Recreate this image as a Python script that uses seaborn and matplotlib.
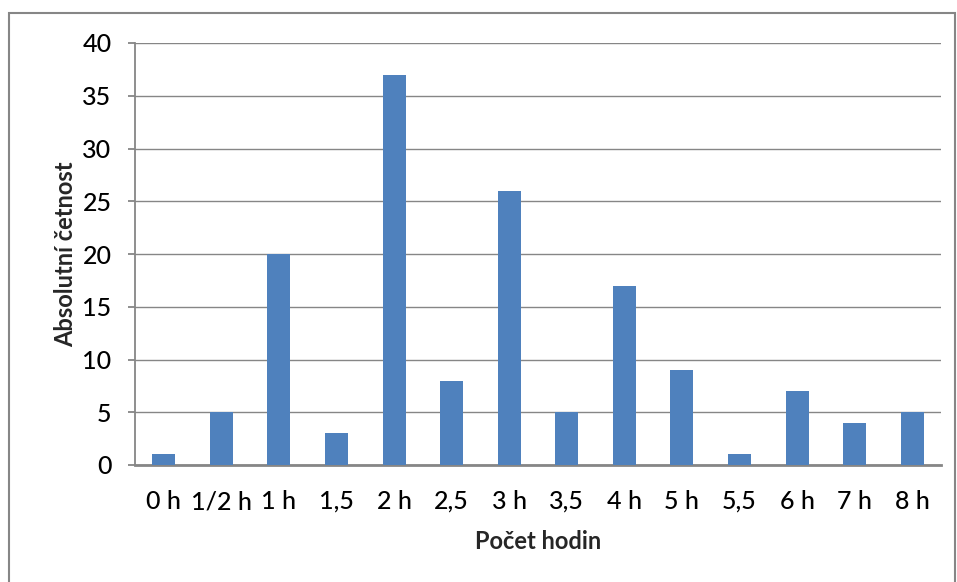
import matplotlib
matplotlib.use("Agg")
import matplotlib.pyplot as plt
import seaborn as sns
import pandas as pd
from matplotlib.patches import Rectangle

categories = ["0 h", "1/2 h", "1 h", "1,5", "2 h", "2,5", "3 h", "3,5",
              "4 h", "5 h", "5,5", "6 h", "7 h", "8 h"]
counts = [1, 5, 20, 3, 37, 8, 26, 5, 17, 9, 1, 7, 4, 5]
y_ticks = [0, 5, 10, 15, 20, 25, 30, 35, 40]

sns.set_theme(style="white")
plt.rcParams["font.family"] = ["Lato", "DejaVu Sans"]

df = pd.DataFrame({"kategorie": categories, "cetnost": counts})

fig = plt.figure(figsize=(9.57, 5.82), dpi=100)
ax = fig.add_axes([135 / 957, 1 - 465 / 582, (941 - 135) / 957, (465 - 43) / 582])

sns.barplot(data=df, x="kategorie", y="cetnost", color="#4F81BD",
            saturation=1, width=0.4, linewidth=0, ax=ax, zorder=3)

grid_c = "#868686"
ax.set_ylim(0, 40)
ax.set_xlim(-0.5, len(categories) - 0.5)
ax.set_yticks(y_ticks)
ax.yaxis.grid(True, color=grid_c, linewidth=1.0, zorder=0)
ax.set_axisbelow(True)

for side in ["top", "right"]:
    ax.spines[side].set_visible(False)
ax.spines["left"].set_color(grid_c)
ax.spines["bottom"].set_color(grid_c)
ax.spines["left"].set_linewidth(1.3)
ax.spines["bottom"].set_linewidth(2.0)

ax.tick_params(axis="y", which="both", left=True, length=5, width=1.3,
               color=grid_c, labelsize=18, pad=12, labelcolor="black")
ax.tick_params(axis="x", bottom=False, labelsize=18, pad=12, labelcolor="black")
for lbl in ax.get_xticklabels() + ax.get_yticklabels():
    lbl.set_fontweight("medium")

ax.set_xlabel("Počet hodin", fontsize=17, fontweight="bold", labelpad=12)
ax.set_ylabel("Absolutní četnost", fontsize=17, fontweight="bold", labelpad=4)

# Outer chart border
fig.patches.append(Rectangle((9 / 957, -0.05), (955 - 9) / 957, 1 - 13 / 582 + 0.05,
                             transform=fig.transFigure, fill=False,
                             edgecolor="#868686", linewidth=1.5))

fig.savefig("out.png", dpi=100)
